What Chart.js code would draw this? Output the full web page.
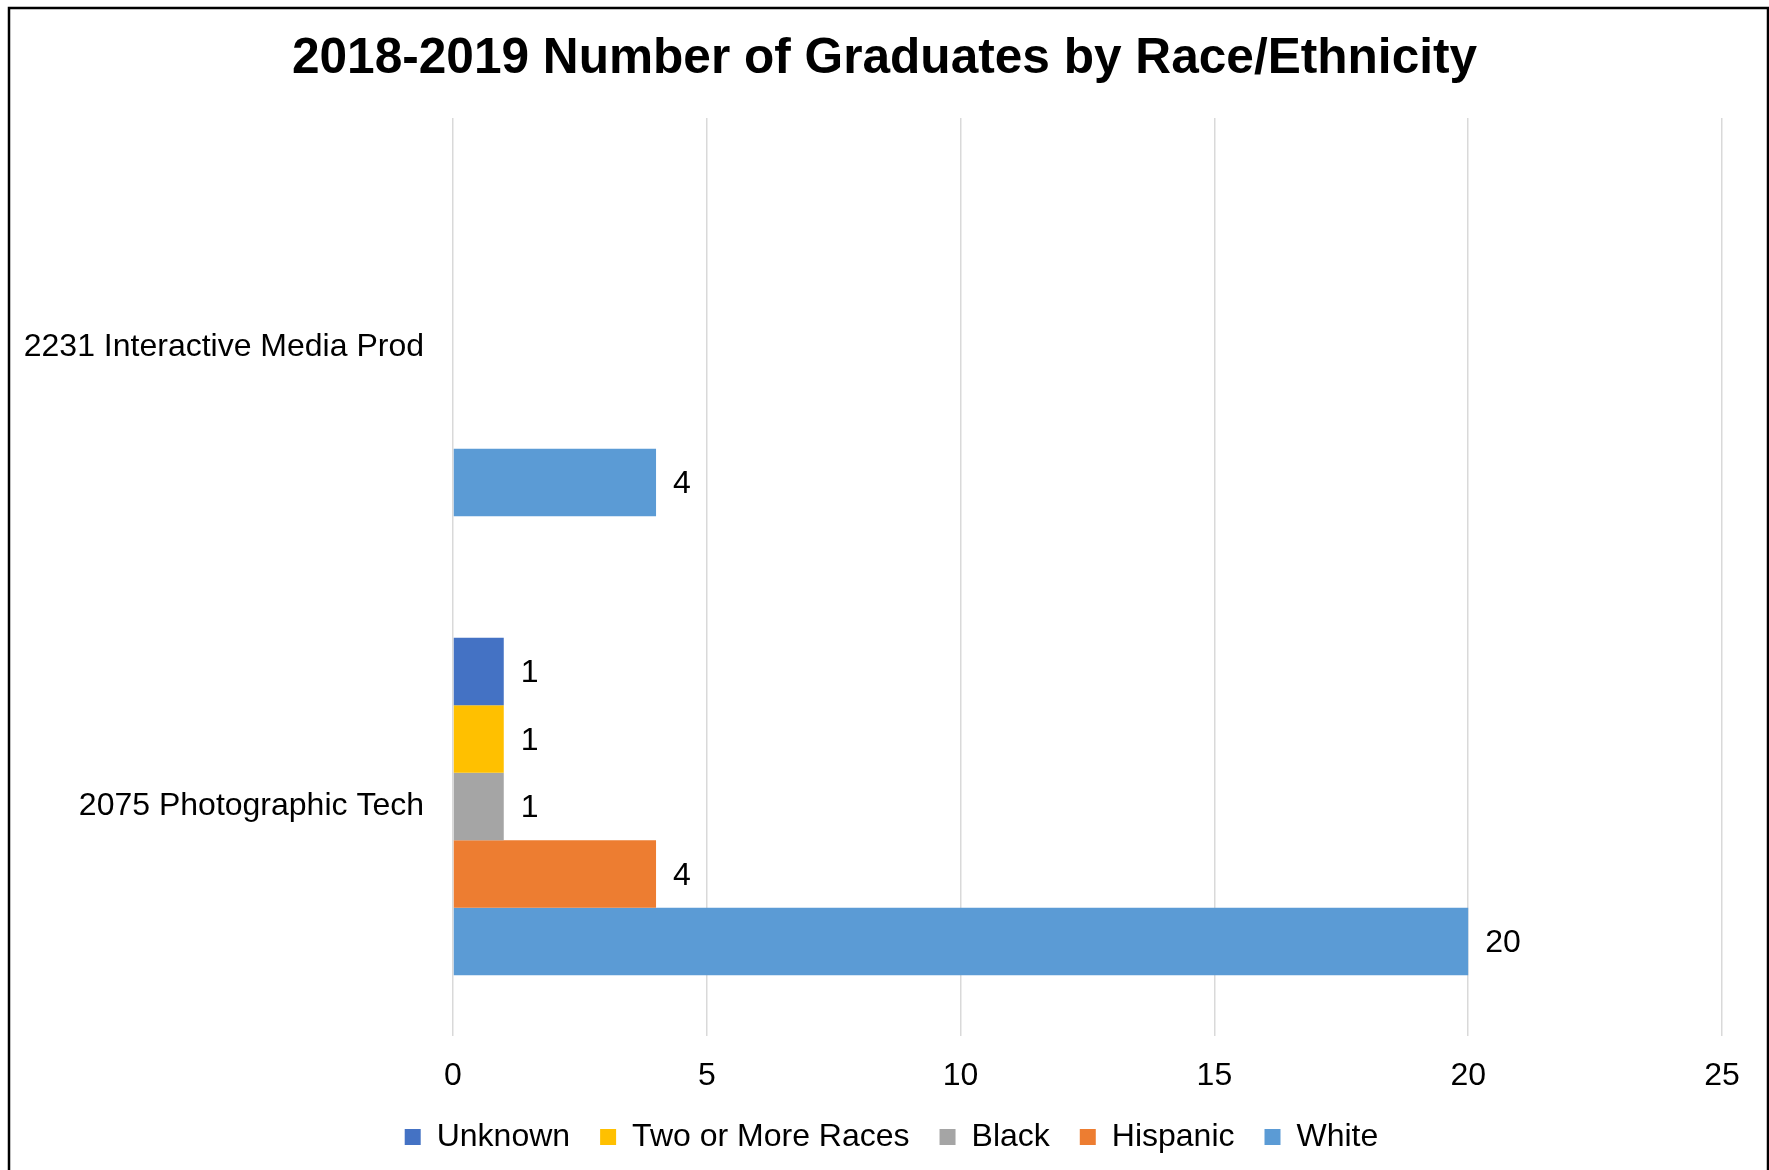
<!DOCTYPE html>
<html>
<head>
<meta charset="utf-8">
<title>2018-2019 Number of Graduates by Race/Ethnicity</title>
<script src="https://cdn.jsdelivr.net/npm/chart.js@4.4.1/dist/chart.umd.min.js"></script>
<style>
    html, body { margin: 0; padding: 0; background: #fff; }
    #wrap { width: 1769px; height: 1170px; }
</style>
</head>
<body>
<div id="wrap"><canvas id="gradChart" width="1769" height="1170"></canvas></div>
<script>
// ==================== DATA ====================
let programs = ["2231 Interactive Media Prod", "2075 Photographic Tech"];
let raceNames = ["Unknown", "Two or More Races", "Black", "Hispanic", "White"];
let raceColors = ["#4472C4", "#FFC000", "#A5A5A5", "#ED7D31", "#5B9BD5"];

let unknownCounts = [null, 1];
let twoOrMoreCounts = [null, 1];
let blackCounts = [null, 1];
let hispanicCounts = [null, 4];
let whiteCounts = [4, 20];

let xTicks = [0, 5, 10, 15, 20, 25];

let seriesValues = [unknownCounts, twoOrMoreCounts, blackCounts, hispanicCounts, whiteCounts];

// ==================== PLUGINS ====================

// white page with the thin black frame
const framePlugin = {
    id: 'frame',
    beforeDraw(chart) {
        let ctx = chart.ctx;
        ctx.save();
        ctx.fillStyle = "#ffffff";
        ctx.fillRect(0, 0, chart.width, chart.height);
        ctx.strokeStyle = "#000000";
        ctx.lineWidth = 2.5;
        ctx.strokeRect(9, 8, 1759, 1180);
        ctx.restore();
    }
};

// nudge the legend a little to the right, like the original
const legendShift = {
    id: 'legendShift',
    afterLayout(chart) {
        if (chart.legend) {
            chart.legend.left += 7;
            chart.legend.right += 7;
        }
    }
};

// value labels at the end of each bar
const valueLabels = {
    id: 'valueLabels',
    afterDatasetsDraw(chart) {
        let ctx = chart.ctx;
        ctx.save();
        ctx.font = "32px 'Liberation Sans', Arial, sans-serif";
        ctx.fillStyle = "#000000";
        ctx.textAlign = "left";
        ctx.textBaseline = "middle";
        chart.data.datasets.forEach((ds, i) => {
            let meta = chart.getDatasetMeta(i);
            meta.data.forEach((bar, j) => {
                let v = ds.data[j];
                if (v === null || v === undefined) return;
                ctx.fillText(String(v), bar.x + 17, bar.y + 2);
            });
        });
        ctx.restore();
    }
};

// ==================== CHART ====================
document.addEventListener("DOMContentLoaded", function () {
    let ctx = document.getElementById('gradChart').getContext('2d');

    let datasets = raceNames.map((name, i) => ({
        label: name,
        data: seriesValues[i],
        backgroundColor: raceColors[i],
        borderWidth: 0,
        barPercentage: 1.0,
        categoryPercentage: 0.735
    }));

    new Chart(ctx, {
        type: 'bar',
        data: { labels: programs, datasets: datasets },
        options: {
            indexAxis: 'y',
            responsive: false,
            animation: false,
            layout: { padding: { left: 10, right: 10, top: 8, bottom: 7 } },
            scales: {
                x: {
                    min: 0,
                    max: 25,
                    afterBuildTicks(scale) {
                        scale.ticks = xTicks.map(v => ({ value: v }));
                    },
                    afterFit(scale) { scale.height = 55; },
                    grid: { color: "#D9D9D9", lineWidth: 1.5, drawTicks: false },
                    border: { display: false },
                    ticks: {
                        padding: 21,
                        color: "#000000",
                        font: { family: "'Liberation Sans', Arial, sans-serif", size: 32 }
                    }
                },
                y: {
                    afterFit(scale) { scale.width = 443; },
                    grid: { display: false, drawTicks: false },
                    border: { display: false },
                    ticks: {
                        padding: 29,
                        color: "#000000",
                        font: { family: "'Liberation Sans', Arial, sans-serif", size: 32 }
                    }
                },
                // empty spacer on the right so the plot ends at 25 like the original
                yRight: {
                    type: 'category',
                    position: 'right',
                    afterFit(scale) { scale.width = 37; },
                    grid: { display: false, drawTicks: false },
                    border: { display: false },
                    ticks: { display: false }
                }
            },
            plugins: {
                title: {
                    display: true,
                    text: "2018-2019 Number of Graduates by Race/Ethnicity",
                    color: "#000000",
                    font: { family: "'Liberation Sans', Arial, sans-serif", size: 49.6, weight: 'bold' },
                    padding: { top: 22, bottom: 28.5 }
                },
                legend: {
                    position: 'bottom',
                    labels: {
                        boxWidth: 16,
                        boxHeight: 16,
                        padding: 30,
                        color: "#000000",
                        font: { family: "'Liberation Sans', Arial, sans-serif", size: 32 }
                    }
                },
                tooltip: { enabled: false }
            }
        },
        plugins: [framePlugin, legendShift, valueLabels]
    });
});
</script>
</body>
</html>
